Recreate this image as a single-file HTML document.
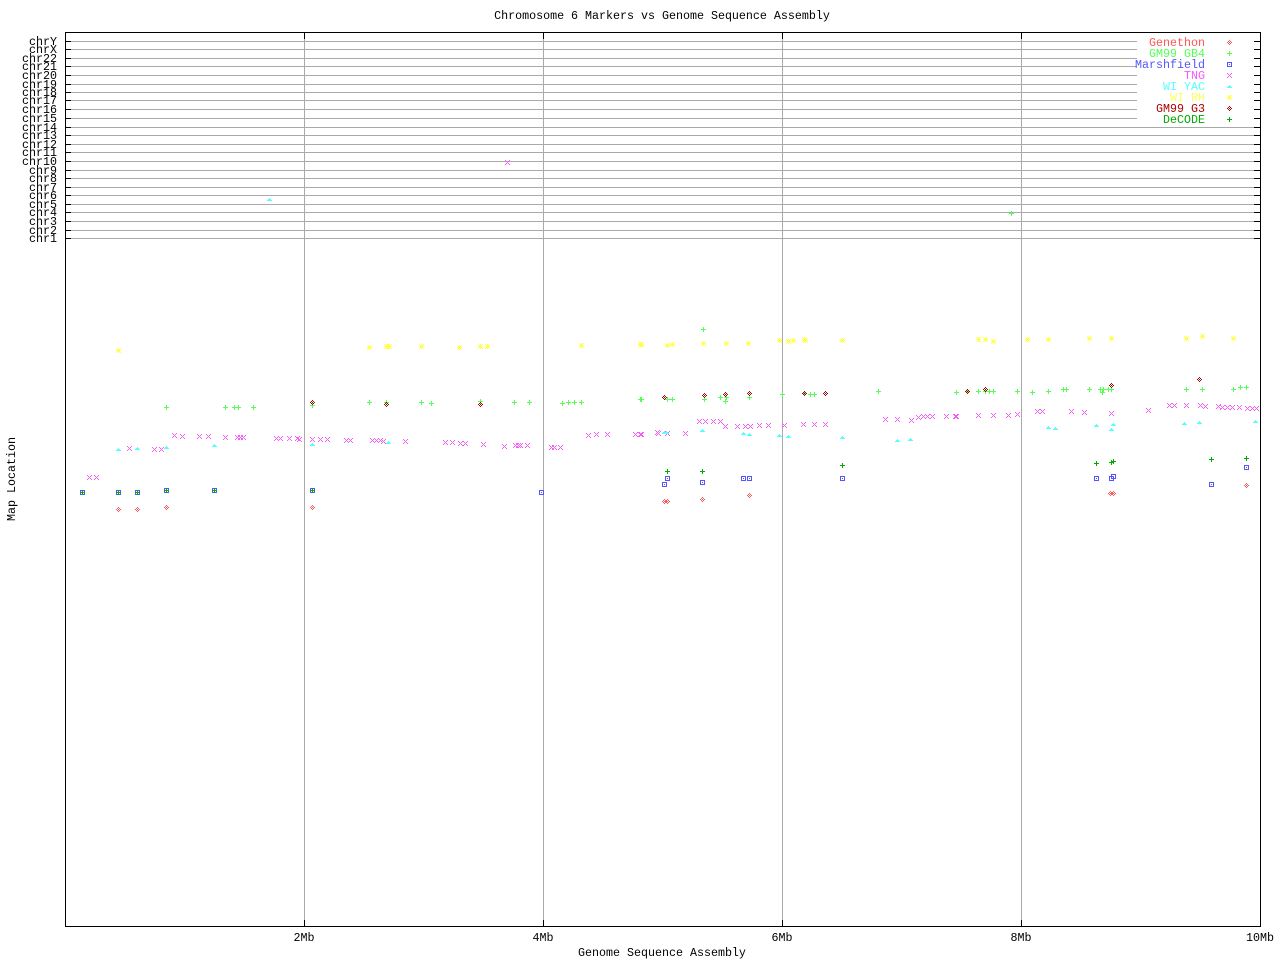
<!DOCTYPE html>
<html><head><meta charset="utf-8"><style>
html,body{margin:0;padding:0;background:#fff;}
svg{display:block;}
text{font-family:"Liberation Mono","DejaVu Sans Mono",monospace;font-size:11.67px;}
</style></head><body>
<svg width="1280" height="960" viewBox="0 0 1280 960" xmlns="http://www.w3.org/2000/svg" shape-rendering="crispEdges">
<defs>
<path id="P" d="M-2 0h5v1h-5zM0-2h1v5h-1z"/>
<path id="X" d="M-2-2h1v1h-1zM-1-1h1v1h-1zM0 0h1v1h-1zM1 1h1v1h-1zM2 2h1v1h-1zM2-2h1v1h-1zM1-1h1v1h-1zM-1 1h1v1h-1zM-2 2h1v1h-1z"/>
<path id="S" d="M-2-2h5v1h-5zM-2 2h5v1h-5zM-2-1h1v3h-1zM2-1h1v3h-1zM0 0h1v1h-1z"/>
<path id="D" d="M0-2h1v1h-1zM-1-1h1v1h-1zM1-1h1v1h-1zM-2 0h1v1h-1zM0 0h1v1h-1zM2 0h1v1h-1zM-1 1h1v1h-1zM1 1h1v1h-1zM0 2h1v1h-1z"/>
<path id="T" d="M0-1h1v1h-1zM-1 0h3v1h-3zM-2 1h5v1h-5z"/>
<path id="R" d="M-2-2h1v1h-1zM-1-1h1v1h-1zM1 1h1v1h-1zM2 2h1v1h-1zM2-2h1v1h-1zM1-1h1v1h-1zM-1 1h1v1h-1zM-2 2h1v1h-1zM-2 0h5v1h-5zM0-2h1v5h-1z"/>
</defs>
<rect width="1280" height="960" fill="#fff"/>
<text x="662" y="19" text-anchor="middle">Chromosome 6 Markers vs Genome Sequence Assembly</text>

<!-- horizontal chr lines -->
<g stroke="#aaaaaa" stroke-width="1">
<path d="M65 41.5H1260M65 49.5H1260M65 58.5H1260M65 66.5H1260M65 75.5H1260M65 84.5H1260M65 92.5H1260M65 100.5H1260M65 109.5H1260M65 118.5H1260M65 127.5H1260M65 135.5H1260M65 144.5H1260M65 152.5H1260M65 161.5H1260M65 170.5H1260M65 178.5H1260M65 187.5H1260M65 195.5H1260M65 204.5H1260M65 212.5H1260M65 221.5H1260M65 230.5H1260M65 238.5H1260"/>
<path d="M304.5 32V926M543.5 32V926M782.5 32V926M1021.5 32V926"/>
</g>
<g stroke="#000" stroke-width="1">
<path d="M65 41.5H71M65 49.5H71M65 58.5H71M65 66.5H71M65 75.5H71M65 84.5H71M65 92.5H71M65 100.5H71M65 109.5H71M65 118.5H71M65 127.5H71M65 135.5H71M65 144.5H71M65 152.5H71M65 161.5H71M65 170.5H71M65 178.5H71M65 187.5H71M65 195.5H71M65 204.5H71M65 212.5H71M65 221.5H71M65 230.5H71M65 238.5H71"/>
<path d="M1254 41.5H1260M1254 49.5H1260M1254 58.5H1260M1254 66.5H1260M1254 75.5H1260M1254 84.5H1260M1254 92.5H1260M1254 100.5H1260M1254 109.5H1260M1254 118.5H1260M1254 127.5H1260M1254 135.5H1260M1254 144.5H1260M1254 152.5H1260M1254 161.5H1260M1254 170.5H1260M1254 178.5H1260M1254 187.5H1260M1254 195.5H1260M1254 204.5H1260M1254 212.5H1260M1254 221.5H1260M1254 230.5H1260M1254 238.5H1260"/>
<path d="M304.5 32V39M543.5 32V39M782.5 32V39M1021.5 32V39M304.5 920V926M543.5 920V926M782.5 920V926M1021.5 920V926"/>
</g>

<g text-anchor="end">
<text x="57" y="45">chrY</text><text x="57" y="53">chrX</text><text x="57" y="62">chr22</text><text x="57" y="70">chr21</text>
<text x="57" y="79">chr20</text><text x="57" y="88">chr19</text><text x="57" y="96">chr18</text><text x="57" y="104">chr17</text>
<text x="57" y="113">chr16</text><text x="57" y="122">chr15</text><text x="57" y="131">chr14</text><text x="57" y="139">chr13</text>
<text x="57" y="148">chr12</text><text x="57" y="156">chr11</text><text x="57" y="165">chr10</text><text x="57" y="174">chr9</text>
<text x="57" y="182">chr8</text><text x="57" y="191">chr7</text><text x="57" y="199">chr6</text><text x="57" y="208">chr5</text>
<text x="57" y="216">chr4</text><text x="57" y="225">chr3</text><text x="57" y="234">chr2</text><text x="57" y="242">chr1</text>
</g>

<g text-anchor="middle">
<text x="304" y="941">2Mb</text><text x="543" y="941">4Mb</text><text x="782" y="941">6Mb</text><text x="1021" y="941">8Mb</text><text x="1260" y="941">10Mb</text>
<text x="662" y="956">Genome Sequence Assembly</text>
</g>
<text transform="translate(15,479) rotate(-90)" text-anchor="middle">Map Location</text>

<!-- Genethon -->
<g fill="#ff5555">
<use href="#D" x="118" y="509"/><use href="#D" x="137" y="509"/><use href="#D" x="166" y="507"/><use href="#D" x="312" y="507"/>
<use href="#D" x="664" y="501"/><use href="#D" x="667" y="501"/><use href="#D" x="702" y="499"/><use href="#D" x="749" y="495"/>
<use href="#D" x="1110" y="493"/><use href="#D" x="1113" y="493"/><use href="#D" x="1246" y="485"/>
</g>
<!-- GM99 GB4 -->
<g fill="#55ff55">
<use href="#P" x="166" y="407"/><use href="#P" x="225" y="407"/><use href="#P" x="234" y="407"/><use href="#P" x="238" y="407"/><use href="#P" x="253" y="407"/><use href="#P" x="312" y="405"/>
<use href="#P" x="369" y="402"/><use href="#P" x="386" y="402"/><use href="#P" x="421" y="402"/><use href="#P" x="431" y="403"/><use href="#P" x="480" y="401"/><use href="#P" x="514" y="402"/><use href="#P" x="529" y="402"/><use href="#P" x="562" y="403"/><use href="#P" x="568" y="402"/><use href="#P" x="574" y="402"/><use href="#P" x="581" y="402"/><use href="#P" x="640" y="399"/>
<use href="#P" x="703" y="329"/><use href="#P" x="641" y="399"/><use href="#P" x="667" y="399"/><use href="#P" x="672" y="399"/><use href="#P" x="704" y="399"/><use href="#P" x="720" y="397"/><use href="#P" x="726" y="397"/><use href="#P" x="725" y="401"/><use href="#P" x="749" y="397"/><use href="#P" x="782" y="394"/><use href="#P" x="804" y="393"/><use href="#P" x="810" y="394"/><use href="#P" x="814" y="394"/><use href="#P" x="878" y="391"/><use href="#P" x="956" y="392"/>
<use href="#P" x="967" y="391"/><use href="#P" x="978" y="391"/><use href="#P" x="985" y="391"/><use href="#P" x="989" y="391"/><use href="#P" x="993" y="391"/><use href="#P" x="1017" y="391"/><use href="#P" x="1032" y="392"/><use href="#P" x="1048" y="391"/><use href="#P" x="1063" y="389"/><use href="#P" x="1066" y="389"/><use href="#P" x="1089" y="389"/><use href="#P" x="1100" y="389"/><use href="#P" x="1103" y="389"/><use href="#P" x="1102" y="392"/><use href="#P" x="1108" y="389"/><use href="#P" x="1111" y="389"/><use href="#P" x="1186" y="389"/><use href="#P" x="1202" y="389"/><use href="#P" x="1233" y="389"/><use href="#P" x="1240" y="387"/><use href="#P" x="1246" y="387"/>
<use href="#P" x="1011" y="213"/>
</g>
<!-- Marshfield -->
<g fill="#5555ff">
<use href="#S" x="82" y="492"/><use href="#S" x="118" y="492"/><use href="#S" x="137" y="492"/><use href="#S" x="166" y="490"/><use href="#S" x="214" y="490"/><use href="#S" x="312" y="490"/><use href="#S" x="541" y="492"/>
<use href="#S" x="667" y="478"/><use href="#S" x="664" y="484"/><use href="#S" x="702" y="482"/><use href="#S" x="743" y="478"/><use href="#S" x="749" y="478"/><use href="#S" x="842" y="478"/>
<use href="#S" x="1096" y="478"/><use href="#S" x="1111" y="478"/><use href="#S" x="1113" y="476"/><use href="#S" x="1211" y="484"/><use href="#S" x="1246" y="467"/>
</g>
<!-- TNG -->
<g fill="#ff55ff">
<use href="#X" x="89" y="477"/><use href="#X" x="96" y="477"/><use href="#X" x="129" y="448"/><use href="#X" x="154" y="449"/><use href="#X" x="161" y="449"/>
<use href="#X" x="174" y="435"/><use href="#X" x="182" y="436"/><use href="#X" x="199" y="436"/><use href="#X" x="208" y="436"/><use href="#X" x="225" y="437"/><use href="#X" x="237" y="437"/><use href="#X" x="240" y="437"/><use href="#X" x="243" y="437"/><use href="#X" x="276" y="438"/><use href="#X" x="280" y="438"/><use href="#X" x="289" y="438"/><use href="#X" x="297" y="438"/><use href="#X" x="299" y="439"/><use href="#X" x="312" y="439"/><use href="#X" x="320" y="439"/><use href="#X" x="327" y="439"/><use href="#X" x="346" y="440"/><use href="#X" x="350" y="440"/>
<use href="#X" x="372" y="440"/><use href="#X" x="376" y="440"/><use href="#X" x="380" y="440"/><use href="#X" x="383" y="441"/><use href="#X" x="405" y="441"/><use href="#X" x="445" y="442"/><use href="#X" x="452" y="442"/><use href="#X" x="460" y="443"/><use href="#X" x="465" y="443"/><use href="#X" x="483" y="444"/><use href="#X" x="504" y="446"/><use href="#X" x="515" y="445"/><use href="#X" x="518" y="445"/><use href="#X" x="520" y="445"/><use href="#X" x="527" y="445"/><use href="#X" x="551" y="447"/><use href="#X" x="554" y="447"/><use href="#X" x="560" y="447"/><use href="#X" x="588" y="435"/><use href="#X" x="596" y="434"/><use href="#X" x="607" y="434"/><use href="#X" x="635" y="434"/><use href="#X" x="640" y="434"/><use href="#X" x="657" y="432"/>
<use href="#X" x="641" y="434"/><use href="#X" x="658" y="433"/><use href="#X" x="667" y="433"/><use href="#X" x="685" y="433"/><use href="#X" x="699" y="421"/><use href="#X" x="705" y="421"/><use href="#X" x="713" y="421"/><use href="#X" x="720" y="421"/><use href="#X" x="725" y="426"/><use href="#X" x="737" y="426"/><use href="#X" x="745" y="426"/><use href="#X" x="750" y="426"/><use href="#X" x="759" y="425"/><use href="#X" x="768" y="425"/><use href="#X" x="784" y="425"/><use href="#X" x="803" y="424"/><use href="#X" x="814" y="424"/><use href="#X" x="825" y="424"/><use href="#X" x="885" y="419"/><use href="#X" x="897" y="419"/><use href="#X" x="911" y="420"/><use href="#X" x="918" y="417"/><use href="#X" x="923" y="416"/><use href="#X" x="927" y="416"/><use href="#X" x="932" y="416"/><use href="#X" x="946" y="416"/><use href="#X" x="955" y="416"/>
<use href="#X" x="956" y="416"/><use href="#X" x="978" y="415"/><use href="#X" x="993" y="415"/><use href="#X" x="1008" y="415"/><use href="#X" x="1017" y="414"/><use href="#X" x="1037" y="411"/><use href="#X" x="1042" y="411"/><use href="#X" x="1071" y="411"/><use href="#X" x="1084" y="412"/><use href="#X" x="1111" y="413"/><use href="#X" x="1148" y="410"/><use href="#X" x="1169" y="405"/><use href="#X" x="1174" y="405"/><use href="#X" x="1186" y="405"/><use href="#X" x="1200" y="405"/><use href="#X" x="1205" y="406"/><use href="#X" x="1218" y="406"/><use href="#X" x="1222" y="407"/><use href="#X" x="1227" y="407"/><use href="#X" x="1232" y="407"/><use href="#X" x="1239" y="407"/><use href="#X" x="1247" y="408"/><use href="#X" x="1252" y="408"/><use href="#X" x="1256" y="408"/>
<use href="#X" x="507" y="162"/>
</g>
<!-- WI YAC -->
<g fill="#55ffff">
<use href="#T" x="118" y="449"/><use href="#T" x="137" y="448"/><use href="#T" x="166" y="447"/><use href="#T" x="214" y="445"/><use href="#T" x="312" y="444"/><use href="#T" x="388" y="442"/>
<use href="#T" x="664" y="432"/><use href="#T" x="666" y="432"/><use href="#T" x="702" y="430"/><use href="#T" x="743" y="433"/><use href="#T" x="749" y="434"/><use href="#T" x="779" y="435"/><use href="#T" x="788" y="436"/><use href="#T" x="842" y="437"/><use href="#T" x="897" y="440"/><use href="#T" x="910" y="439"/>
<use href="#T" x="1048" y="427"/><use href="#T" x="1055" y="428"/><use href="#T" x="1096" y="425"/><use href="#T" x="1113" y="424"/><use href="#T" x="1111" y="429"/><use href="#T" x="1184" y="423"/><use href="#T" x="1199" y="422"/><use href="#T" x="1255" y="421"/>
<use href="#T" x="269" y="199"/>
</g>
<!-- WI RH -->
<g fill="#ffff55">
<use href="#R" x="118" y="350"/><use href="#R" x="369" y="347"/><use href="#R" x="386" y="346"/><use href="#R" x="389" y="346"/><use href="#R" x="421" y="346"/><use href="#R" x="459" y="347"/><use href="#R" x="480" y="346"/><use href="#R" x="487" y="346"/><use href="#R" x="581" y="345"/><use href="#R" x="640" y="344"/>
<use href="#R" x="641" y="344"/><use href="#R" x="667" y="345"/><use href="#R" x="672" y="344"/><use href="#R" x="703" y="343"/><use href="#R" x="726" y="343"/><use href="#R" x="748" y="343"/><use href="#R" x="779" y="340"/><use href="#R" x="788" y="341"/><use href="#R" x="793" y="340"/><use href="#R" x="804" y="339"/><use href="#R" x="805" y="340"/><use href="#R" x="842" y="340"/>
<use href="#R" x="978" y="339"/><use href="#R" x="985" y="339"/><use href="#R" x="993" y="341"/><use href="#R" x="1027" y="339"/><use href="#R" x="1048" y="339"/><use href="#R" x="1089" y="338"/><use href="#R" x="1111" y="338"/><use href="#R" x="1186" y="338"/><use href="#R" x="1202" y="336"/><use href="#R" x="1233" y="338"/>
</g>
<!-- GM99 G3 -->
<g fill="#aa0000">
<use href="#D" x="312" y="402"/><use href="#D" x="386" y="404"/><use href="#D" x="480" y="404"/><use href="#D" x="664" y="397"/><use href="#D" x="704" y="395"/><use href="#D" x="725" y="394"/><use href="#D" x="749" y="393"/><use href="#D" x="804" y="393"/><use href="#D" x="825" y="393"/><use href="#D" x="967" y="391"/><use href="#D" x="985" y="389"/><use href="#D" x="1111" y="385"/><use href="#D" x="1199" y="379"/>
</g>
<!-- DeCODE -->
<g fill="#00aa00">
<use href="#P" x="82" y="492"/><use href="#P" x="118" y="492"/><use href="#P" x="137" y="492"/><use href="#P" x="166" y="490"/><use href="#P" x="214" y="490"/><use href="#P" x="312" y="490"/>
<use href="#P" x="667" y="471"/><use href="#P" x="702" y="471"/><use href="#P" x="842" y="465"/><use href="#P" x="1096" y="463"/><use href="#P" x="1111" y="462"/><use href="#P" x="1113" y="461"/><use href="#P" x="1211" y="459"/><use href="#P" x="1246" y="458"/>
</g>

<!-- legend -->
<rect x="1137" y="34" width="117" height="91" fill="#fff"/>
<g text-anchor="end">
<text x="1205" y="46" fill="#ff5555">Genethon</text>
<text x="1205" y="57" fill="#55ff55">GM99 GB4</text>
<text x="1205" y="68" fill="#5555ff">Marshfield</text>
<text x="1205" y="79" fill="#ff55ff">TNG</text>
<text x="1205" y="90" fill="#55ffff">WI YAC</text>
<text x="1205" y="101" fill="#ffff55">WI RH</text>
<text x="1205" y="112" fill="#aa0000">GM99 G3</text>
<text x="1205" y="123" fill="#00aa00">DeCODE</text>
</g>
<use href="#D" x="1229" y="42" fill="#ff5555"/>
<use href="#P" x="1229" y="53" fill="#55ff55"/>
<use href="#S" x="1229" y="64" fill="#5555ff"/>
<use href="#X" x="1229" y="75" fill="#ff55ff"/>
<use href="#T" x="1229" y="86" fill="#55ffff"/>
<use href="#R" x="1229" y="97" fill="#ffff55"/>
<use href="#D" x="1229" y="108" fill="#aa0000"/>
<use href="#P" x="1229" y="119" fill="#00aa00"/>

<!-- frame -->
<rect x="65.5" y="32.5" width="1195" height="894" fill="none" stroke="#000" stroke-width="1"/>
</svg>
</body></html>
